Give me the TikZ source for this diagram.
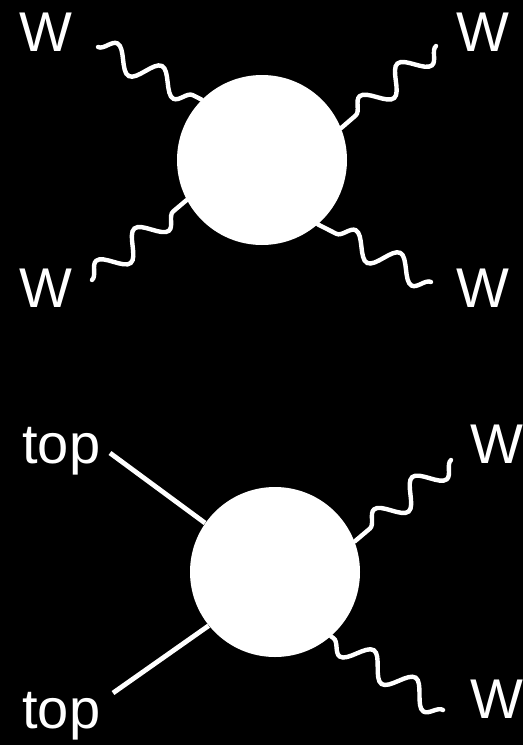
\documentclass[tikz,border=0pt]{standalone}
\usepackage{fontspec}
\setmainfont{Liberation Sans}
\usetikzlibrary{decorations.pathmorphing}

\begin{document}
\begin{tikzpicture}[
    x=0.5pt, y=-0.5pt,
    blob/.style={circle, fill=white, inner sep=0pt, minimum size=85pt},
    lbl/.style={text=white, font=\fontsize{28}{32}\selectfont, inner sep=0pt},
    boson/.style={draw=white, line width=2.2pt, line cap=round,
                  decorate, decoration={snake, segment length=25pt, amplitude=6pt}},
    fermion/.style={draw=white, line width=2.4pt}
  ]
  % background
  \fill[black] (0,0) rectangle (523,745);

  % WW -> WW
  \node[blob] (blobA) at (262,160) {};
  \node[lbl] (wA1) at (46,32) {W};
  \node[lbl] (wA2) at (483,32) {W};
  \node[lbl] (wA3) at (46,288) {W};
  \node[lbl] (wA4) at (483,288) {W};
  \coordinate (eA1) at (98,47);
  \coordinate (eA2) at (436,46);
  \coordinate (eA3) at (92,280);
  \coordinate (eA4) at (431,282);
  \draw[boson] (eA1) -- (blobA.135);
  \draw[boson] (eA2) -- (blobA.22);
  \draw[boson] (eA3) -- (blobA.208);
  \draw[boson] (eA4) -- (blobA.311);

  % tt -> WW
  \node[blob] (blobB) at (275,572) {};
  \node[lbl, anchor=base west] (tB1) at (22,463) {top};
  \node[lbl, anchor=base west] (tB2) at (22,728) {top};
  \node[lbl] (wB1) at (497,444) {W};
  \node[lbl] (wB2) at (497,699) {W};
  \coordinate (eB1) at (110,453);
  \coordinate (eB2) at (113,693);
  \coordinate (eB3) at (451,460);
  \coordinate (eB4) at (443,710);
  \draw[fermion] (eB1) -- (blobB.145);
  \draw[fermion] (eB2) -- (blobB.219);
  \draw[boson] (eB3) -- (blobB.21);
  \draw[boson] (eB4) -- (blobB.311);
\end{tikzpicture}
\end{document}
